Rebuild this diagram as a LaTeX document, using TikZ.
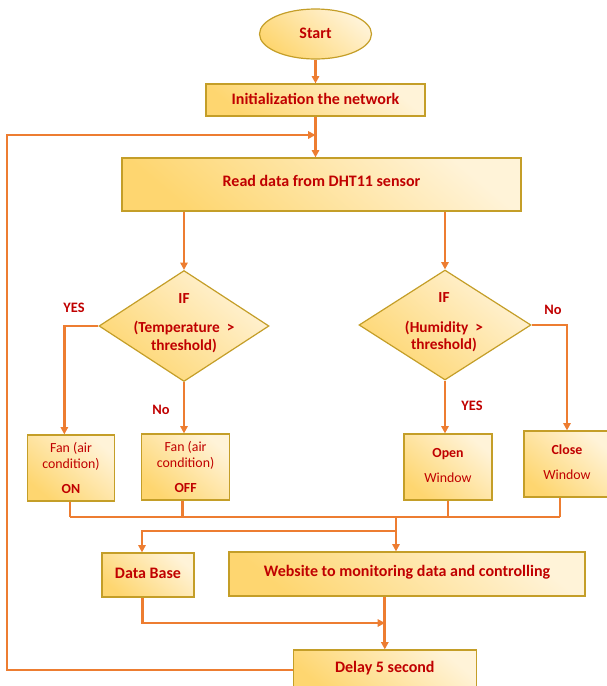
\documentclass[tikz,border=0pt]{standalone}
\usepackage{fontspec}
\setmainfont{Carlito}
\usepackage{tikz}
\usetikzlibrary{shapes.geometric, arrows.meta, positioning}
\definecolor{gold}{RGB}{254,214,112}
\definecolor{cream}{RGB}{255,243,216}
\definecolor{rim}{RGB}{196,158,40}
\definecolor{wine}{RGB}{192,0,0}
\definecolor{tangerine}{RGB}{237,125,49}

\begin{document}
\begin{tikzpicture}[
      x=0.75pt, y=-0.75pt,
      shade/.style={top color=cream, bottom color=gold, shading angle=-40},
      box/.style={rectangle, draw=rim, line width=0.9pt, shade,
                  text=wine, align=center, inner sep=0pt,
                  font=\fontsize{12}{14}\selectfont\bfseries},
      small/.style={font=\fontsize{10.4}{12}\selectfont\bfseries},
      sz/.style 2 args={minimum width=#1*0.75pt, minimum height=#2*0.75pt},
      term/.style={ellipse, draw=rim, line width=0.9pt, shade,
                   text=wine, inner sep=0pt,
                   font=\fontsize{12}{14}\selectfont\bfseries},
      decision/.style={diamond, draw=rim, line width=0.9pt, shade, inner sep=0pt},
      txt/.style={text=wine, align=center, inner sep=0pt,
                  font=\fontsize{11.5}{13}\selectfont\bfseries},
      lbl/.style={text=wine, inner sep=0pt,
                  font=\fontsize{10.8}{12}\selectfont\bfseries},
      arr/.style={-{Triangle[length=5.5pt,width=5.5pt]}, line width=2pt, draw=tangerine},
      ln/.style={line width=2pt, draw=tangerine},
      ]
    \useasboundingbox (0,0) rectangle (607,686);

    \node[term, sz={112}{50}] (start) at (315.5,34) {\raisebox{1.5pt}{Start}};
    \node[box, sz={219}{32}] (init) at (315.5,100) {\raisebox{1.5pt}{Initialization the network}};
    \node[box, sz={399}{53}] (read) at (321.5,184.5) {\raisebox{5pt}{Read data from DHT11 sensor}};

    \node[decision, sz={170}{111}] (dtemp) at (184,326) {};
    \node[txt] (dtemp-t) at (184,323) {IF\\[9pt](Temperature~~\textgreater\\threshold)};
    \node[decision, sz={172}{110}] (dhum) at (445,325) {};
    \node[txt] (dhum-t) at (444,322.5) {IF\\[9pt](Humidity~~\textgreater\\threshold)};

    \node[box, small, sz={87}{66}] (fanon) at (71,468) {\mdseries Fan (air\\\mdseries condition)\\[7pt]ON};
    \node[box, small, sz={88}{66}] (fanoff) at (185.6,467) {\mdseries Fan (air\\\mdseries condition)\\[7pt]OFF};
    \node[box, small, sz={88}{66}] (openw) at (448,467)
      {\raisebox{10pt}{\begin{tabular}{@{}c@{}}Open\\[6.75pt]\mdseries Window\end{tabular}}};
    \node[box, small, sz={86}{66}] (closew) at (567,464)
      {\raisebox{8pt}{\begin{tabular}{@{}c@{}}Close\\[6.75pt]\mdseries Window\end{tabular}}};

    \node[box, sz={92}{44}] (db) at (148,575) {\raisebox{3pt}{Data Base}};
    \node[box, sz={356}{44}] (web) at (407,574) {\raisebox{4pt}{Website to monitoring data and controlling}};
    \node[box, sz={183}{42}] (delay) at (384.8,671) {\raisebox{6.5pt}{Delay 5 second}};

    % branch labels
    \node[lbl] (yes1) at (74,308) {YES};
    \node[lbl] (no1) at (161,410) {No};
    \node[lbl] (yes2) at (472,406) {YES};
    \node[lbl] (no2) at (553,310) {No};

    % joints
    \coordinate (merge) at (315.5,135);
    \coordinate (lft) at (7,670);
    \coordinate (busL) at (70,517);
    \coordinate (busR) at (560,517);
    \coordinate (split) at (396,517);
    \coordinate (fork) at (396,531);
    \coordinate (join) at (385,623);

    \draw[arr] (start) -- (init);
    \draw[arr] (init.south) -- (init.south |- read.north);
    \draw[arr] (lft -| delay.west) -- (lft) |- (merge);
    \draw[arr] (read.south -| dtemp.north) -- (dtemp.north);
    \draw[arr] (read.south -| dhum.north) -- (dhum.north);
    \draw[arr] (dtemp.west) -| ([xshift=-5pt]fanon.north);
    \draw[arr] (dtemp.south) -- (dtemp.south |- fanoff.north);
    \draw[arr] (dhum.south) -- (dhum.south |- openw.north);
    \draw[arr] (dhum.east) -| (closew.north);

    \draw[ln] (busL) -- (busR);
    \draw[ln] (busL |- fanon.south) -- (busL);
    \draw[ln] ([xshift=-2.5pt]fanoff.south) -- ([xshift=-2.5pt]fanoff.south |- busL);
    \draw[ln] (openw.south) -- (openw.south |- busL);
    \draw[ln] (busR |- closew.south) -- (busR);
    \draw[arr] (split) -- (split |- web.north);
    \draw[arr] (fork) -| ([xshift=-4.5pt]db.north);
    \draw[arr] ([xshift=-4pt]db.south) |- (join);
    \draw[arr] (delay.north |- web.south) -- (delay.north);
  \end{tikzpicture}
\end{document}
